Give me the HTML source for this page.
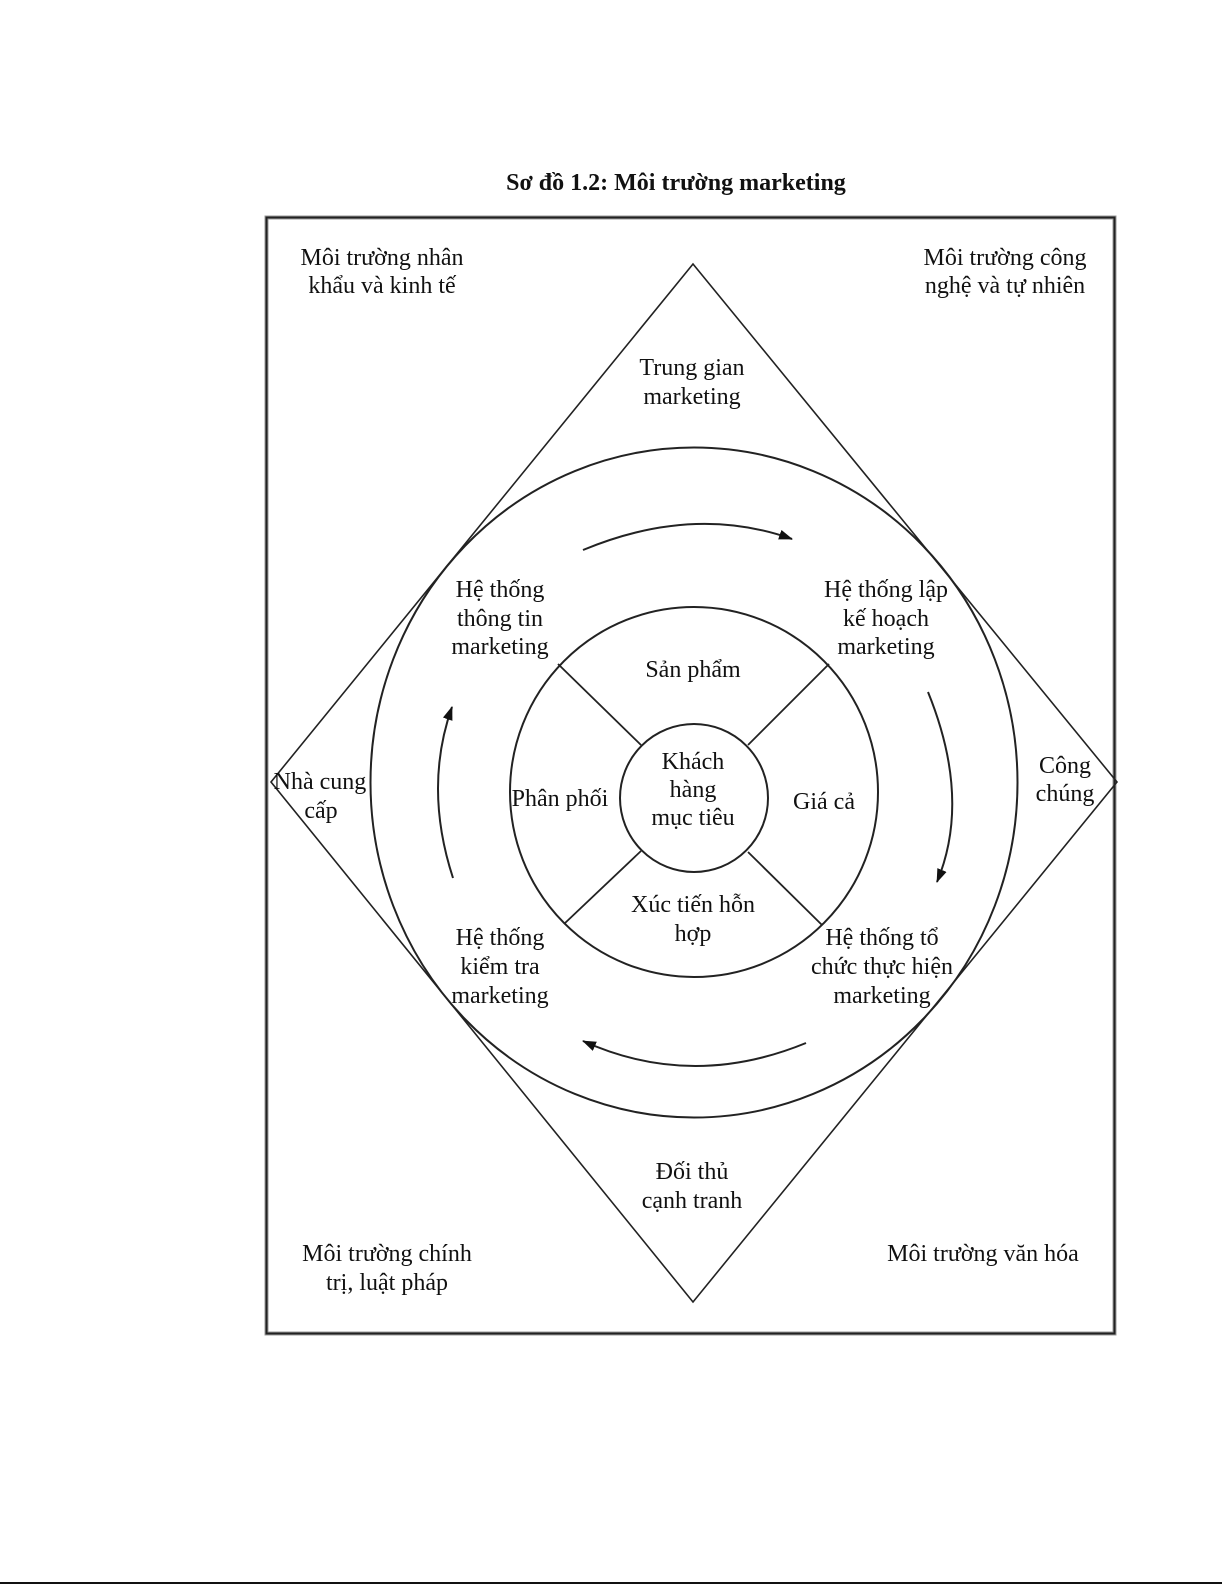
<!DOCTYPE html>
<html>
<head>
<meta charset="utf-8">
<style>
html,body{margin:0;padding:0;background:#fff;}
svg{display:block;}
text{font-family:"Liberation Serif","DejaVu Serif",serif;font-size:24px;fill:#111;}
</style>
</head>
<body>
<svg width="1225" height="1585" viewBox="0 0 1225 1585" xmlns="http://www.w3.org/2000/svg">
<defs>
<marker id="ah" markerUnits="userSpaceOnUse" markerWidth="16" markerHeight="12" refX="13" refY="5" orient="auto">
<path d="M0,0 L14,5 L0,10 z" fill="#111"/>
</marker>
</defs>

<!-- title -->
<text x="676" y="190" text-anchor="middle" style="font-weight:bold">Sơ đồ 1.2: Môi trường marketing</text>

<!-- outer rectangle -->
<rect x="266.5" y="217.5" width="848" height="1116" fill="none" stroke="#999" stroke-width="4"/>
<rect x="266.5" y="217.5" width="848" height="1116" fill="none" stroke="#222" stroke-width="2"/>

<!-- diamond -->
<polygon points="693,264 1117,782 693,1302 271,782" fill="none" stroke="#222" stroke-width="1.6"/>

<!-- circles -->
<ellipse cx="694" cy="782.5" rx="323.5" ry="335" fill="none" stroke="#222" stroke-width="2"/>
<ellipse cx="694" cy="792" rx="184" ry="185" fill="none" stroke="#222" stroke-width="2"/>
<ellipse cx="694" cy="798" rx="74" ry="74" fill="none" stroke="#222" stroke-width="2"/>

<!-- cross lines -->
<line x1="558" y1="664" x2="641" y2="745" stroke="#222" stroke-width="1.8"/>
<line x1="829" y1="664" x2="748" y2="745" stroke="#222" stroke-width="1.8"/>
<line x1="564" y1="924" x2="641" y2="851" stroke="#222" stroke-width="1.8"/>
<line x1="822" y1="925" x2="748" y2="852" stroke="#222" stroke-width="1.8"/>

<!-- arrows -->
<path d="M583,550 Q693.5,504 792,539" fill="none" stroke="#222" stroke-width="2" marker-end="url(#ah)"/>
<path d="M928,692 Q971.5,799 937,882" fill="none" stroke="#222" stroke-width="2" marker-end="url(#ah)"/>
<path d="M806,1043 Q691.5,1090 583,1041" fill="none" stroke="#222" stroke-width="2" marker-end="url(#ah)"/>
<path d="M453,878 Q423.5,787.5 452,707" fill="none" stroke="#222" stroke-width="2" marker-end="url(#ah)"/>

<!-- corner labels -->
<text x="382" y="265" text-anchor="middle">Môi trường nhân</text>
<text x="382" y="293" text-anchor="middle">khẩu và kinh tế</text>
<text x="1005" y="265" text-anchor="middle">Môi trường công</text>
<text x="1005" y="293" text-anchor="middle">nghệ và tự nhiên</text>
<text x="387" y="1261" text-anchor="middle">Môi trường chính</text>
<text x="387" y="1290" text-anchor="middle">trị, luật pháp</text>
<text x="983" y="1261" text-anchor="middle">Môi trường văn hóa</text>

<!-- diamond labels -->
<text x="692" y="375" text-anchor="middle">Trung gian</text>
<text x="692" y="404" text-anchor="middle">marketing</text>
<text x="692" y="1179" text-anchor="middle">Đối thủ</text>
<text x="692" y="1208" text-anchor="middle">cạnh tranh</text>
<text x="320" y="789" text-anchor="middle">Nhà cung</text>
<text x="321" y="818" text-anchor="middle">cấp</text>
<text x="1065" y="773" text-anchor="middle">Công</text>
<text x="1065" y="801" text-anchor="middle">chúng</text>

<!-- big circle labels -->
<text x="500" y="597" text-anchor="middle">Hệ thống</text>
<text x="500" y="626" text-anchor="middle">thông tin</text>
<text x="500" y="654" text-anchor="middle">marketing</text>
<text x="886" y="597" text-anchor="middle">Hệ thống lập</text>
<text x="886" y="626" text-anchor="middle">kế hoạch</text>
<text x="886" y="654" text-anchor="middle">marketing</text>
<text x="500" y="945" text-anchor="middle">Hệ thống</text>
<text x="500" y="974" text-anchor="middle">kiểm tra</text>
<text x="500" y="1003" text-anchor="middle">marketing</text>
<text x="882" y="945" text-anchor="middle">Hệ thống tổ</text>
<text x="882" y="974" text-anchor="middle">chức thực hiện</text>
<text x="882" y="1003" text-anchor="middle">marketing</text>

<!-- middle circle labels -->
<text x="693" y="677" text-anchor="middle">Sản phẩm</text>
<text x="560" y="806" text-anchor="middle">Phân phối</text>
<text x="824" y="809" text-anchor="middle">Giá cả</text>
<text x="693" y="912" text-anchor="middle">Xúc tiến hỗn</text>
<text x="693" y="941" text-anchor="middle">hợp</text>

<!-- inner circle labels -->
<text x="693" y="769" text-anchor="middle">Khách</text>
<text x="693" y="797" text-anchor="middle">hàng</text>
<text x="693" y="825" text-anchor="middle">mục tiêu</text>

<!-- bottom page line -->
<line x1="0" y1="1583" x2="1222" y2="1583" stroke="#111" stroke-width="2"/>
</svg>
</body>
</html>
